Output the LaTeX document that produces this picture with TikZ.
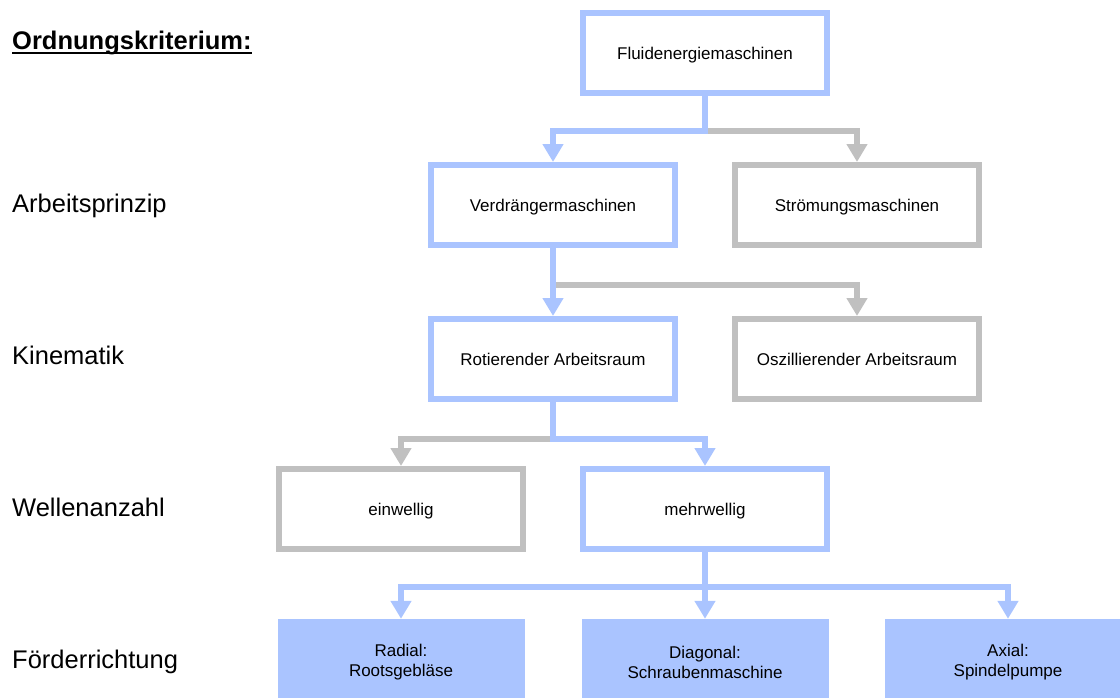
\documentclass[tikz,border=0pt]{standalone}
\usepackage{fontspec}
\setmainfont{Liberation Sans}
\usepackage{tikz}
\usetikzlibrary{arrows.meta,positioning}
\definecolor{hellblau}{RGB}{170,196,255}
\definecolor{hellgrau}{RGB}{192,192,192}

\begin{document}
\begin{tikzpicture}[x=1pt,y=-1pt,
    kasten/.style={draw=hellblau, line width=6pt, minimum width=244pt,
      minimum height=80pt, text height=12.2pt, text depth=0pt,
      font=\fontsize{17}{20}\selectfont},
    grau/.style={kasten, draw=hellgrau},
    voll/.style={fill=hellblau, minimum width=247pt, minimum height=86pt,
      align=center, font=\fontsize{17}{20}\selectfont},
    ebene/.style={anchor=base west, inner sep=0pt,
      font=\fontsize{25.5}{30}\selectfont},
    pfeil/.style={draw=hellblau, line width=6pt,
      -{Triangle[width=20pt,length=18pt]}},
    gpfeil/.style={pfeil, draw=hellgrau}]
    \useasboundingbox (0,0) rectangle (1120,697);
    \clip (0,0) rectangle (1120,697);

    % Ordnungskriterien
    \node[ebene, font=\fontsize{25.5}{30}\selectfont\bfseries] (krit) at (12,49) {Ordnungskriterium:};
    \draw[line width=2.2pt] ([yshift=-4pt]krit.base west) -- ([yshift=-4pt]krit.base east);
    \node[ebene] (prinzip) at (12,212) {Arbeitsprinzip};
    \node[ebene] (kinematik) at (12,364) {Kinematik};
    \node[ebene] (wellen) at (12,516) {Wellenanzahl};
    \node[ebene] (richtung) at (12,668) {Förderrichtung};

    % Kaesten
    \node[kasten] (fluid) at (705,53) {Fluidenergiemaschinen};
    \node[kasten] (verd) at (553,205) {Verdrängermaschinen};
    \node[grau] (stroem) at (857,205) {Strömungsmaschinen};
    \node[kasten] (rot) at (553,359) {Rotierender Arbeitsraum};
    \node[grau] (osz) at (857,359) {Oszillierender Arbeitsraum};
    \node[grau] (einw) at (401,509) {einwellig};
    \node[kasten] (mehr) at (705,509) {mehrwellig};
    \node[voll] (radial) at (401,662) {Radial:\\Rootsgebläse};
    \node[voll] (diag) at (705,662) {Diagonal:\\Schraubenmaschine};
    \node[voll] (axial) at (1008,662) {Axial:\\Spindelpumpe};

    % Verbindungen
    \coordinate (k1) at (705,131);
    \coordinate (k2) at (553,285);
    \coordinate (k3) at (553,439);
    \coordinate (k4) at (705,587);

    \draw[gpfeil] (k1) -| (stroem.north);
    \draw[pfeil] (fluid.south) -- (k1) -| (verd.north);

    \draw[gpfeil] (k2) -| (osz.north);
    \draw[pfeil] (verd.south) -- (rot.north);

    \draw[gpfeil] (k3) -| (einw.north);
    \draw[pfeil] (rot.south) -- (k3) -| (mehr.north);

    \draw[pfeil] (k4) -| (radial.north);
    \draw[pfeil] (k4) -| (axial.north);
    \draw[pfeil] (mehr.south) -- (diag.north);
\end{tikzpicture}
\end{document}
